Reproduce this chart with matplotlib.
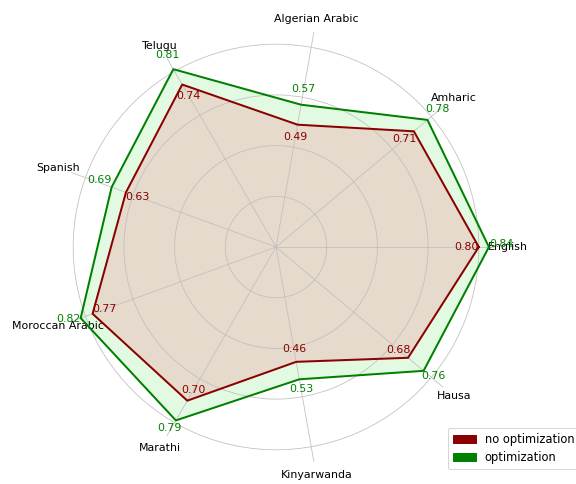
import numpy as np
import matplotlib
matplotlib.use("Agg")
import matplotlib.pyplot as plt
from matplotlib.patches import Patch

categories = ["English", "Amharic", "Algerian Arabic", "Telugu", "Spanish",
              "Moroccan Arabic", "Marathi", "Kinyarwanda", "Hausa"]
no_opt = [0.80, 0.71, 0.49, 0.74, 0.63, 0.77, 0.70, 0.46, 0.68]
opt = [0.84, 0.78, 0.57, 0.81, 0.69, 0.82, 0.79, 0.53, 0.76]
series_names = ["no optimization", "optimization"]

W, H, DPI = 576, 484, 72
fig = plt.figure(figsize=(W / DPI, H / DPI), dpi=DPI)
cx, cy, rpx = 276, 247, 218
ax = fig.add_axes([(cx - rpx) / W, (H - cy - rpx) / H, 2 * rpx / W, 2 * rpx / H],
                  projection="polar")

n = len(categories)
angles = np.linspace(0, 2 * np.pi, n, endpoint=False)
ang_c = np.concatenate([angles, angles[:1]])
red_c = np.concatenate([no_opt, no_opt[:1]])
grn_c = np.concatenate([opt, opt[:1]])

ax.fill(ang_c, grn_c, color="#e2fae2", zorder=1)
ax.fill(ang_c, red_c, color="#e5dacb", zorder=1.1)
ax.plot(ang_c, grn_c, color="green", lw=2, zorder=3)
ax.plot(ang_c, red_c, color="darkred", lw=2, zorder=3.1)

for a, v in zip(angles, no_opt):
    ax.text(a, v - 0.05, f"{v:.2f}", color="darkred", fontsize=11,
            ha="center", va="center", zorder=4)
for a, v in zip(angles, opt):
    ax.text(a, v + 0.05, f"{v:.2f}", color="green", fontsize=11,
            ha="center", va="baseline", zorder=4)

ax.set_ylim(0, 0.86)
ax.set_yticks([0.2, 0.4, 0.6, 0.8])
ax.set_yticklabels([])
ax.set_xticks(angles)
ax.set_xticklabels(categories, fontsize=11)
ax.spines["polar"].set_visible(False)
ax.grid(color="#c0c0c0", lw=0.8)

handles = [Patch(color="darkred", label=series_names[0]),
           Patch(color="green", label=series_names[1])]
fig.legend(handles=handles, loc="upper left",
           bbox_to_anchor=(448 / W, 1 - 428 / H), fontsize=11.5,
           borderaxespad=0)

fig.savefig("out.png", dpi=DPI)
